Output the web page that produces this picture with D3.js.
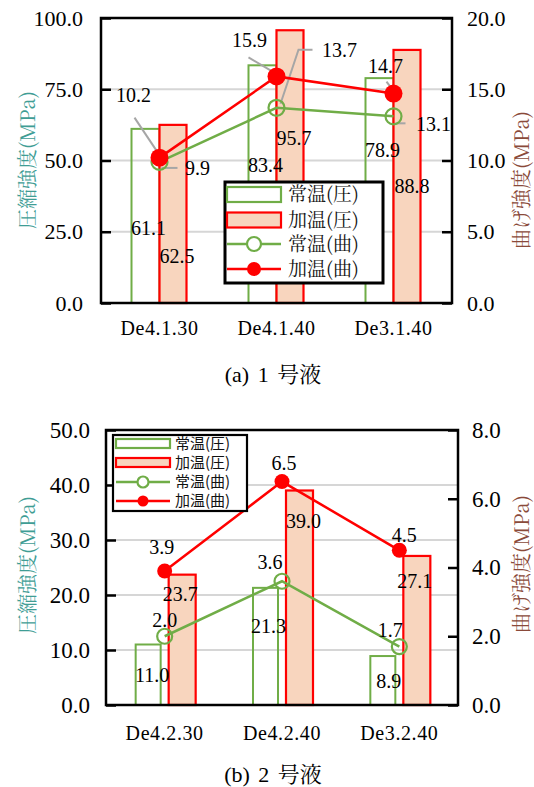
<!DOCTYPE html>
<html>
<head>
<meta charset="utf-8">
<script src="https://cdn.jsdelivr.net/npm/d3@7/dist/d3.min.js"></script>
</head>
<body style="margin:0;background:#fff">
<svg id="chart" width="534" height="787"></svg>
<script>
// ---- data: solution No.1 ----
const categoriesA = ["De4.1.30", "De4.1.40", "De3.1.40"];
const compNormalA = [61.1, 83.4, 78.9];   // 常温(圧)  MPa
const compHeatedA = [62.5, 95.7, 88.8];   // 加温(圧)  MPa
const flexNormalA = [9.9, 13.7, 13.1];    // 常温(曲)  MPa
const flexHeatedA = [10.2, 15.9, 14.7];   // 加温(曲)  MPa
const leftTicksA = [0, 25, 50, 75, 100];
const rightTicksA = [0, 5, 10, 15, 20];

// ---- data: solution No.2 ----
const categoriesB = ["De4.2.30", "De4.2.40", "De3.2.40"];
const compNormalB = [11.0, 21.3, 8.9];
const compHeatedB = [23.7, 39.0, 27.1];
const flexNormalB = [2.0, 3.6, 1.7];
const flexHeatedB = [3.9, 6.5, 4.5];
const leftTicksB = [0, 10, 20, 30, 40, 50];
const rightTicksB = [0, 2, 4, 6, 8];

const seriesNames = ["常温(圧)", "加温(圧)", "常温(曲)", "加温(曲)"];
const captionsLatin = ["(a) 1 ", "(b) 2 "];
const captionsCJK = ["号液", "号液"];
const leftTitle = "圧縮強度(MPa)";
const rightTitle = "曲げ強度(MPa)";

const GREEN = "#70ad47", RED = "#ff0000", PEACH = "#f8d5be", GRID = "#d6d6d6", LEADER = "#a6a6a6";
const LATIN = "Liberation Serif";
const MINCHO = "Noto Serif CJK JP";
const GOTHIC = "Noto Sans CJK JP";

const svg = d3.select("#chart");

function drawPanel(p) {
  const g = svg.append("g");
  const x = d3.scaleBand().domain(p.categories).range([p.left, p.right]);
  const yL = d3.scaleLinear().domain([p.leftTicks[0], p.leftTicks[p.leftTicks.length - 1]]).range([p.bottom, p.top]);
  const yR = d3.scaleLinear().domain([p.rightTicks[0], p.rightTicks[p.rightTicks.length - 1]]).range([p.bottom, p.top]);
  const cx = c => x(c) + x.bandwidth() / 2;
  const fmt = d3.format(".1f");

  // horizontal gridlines
  g.append("g").selectAll("line").data(p.leftTicks.slice(1, -1)).join("line")
    .attr("x1", p.left).attr("x2", p.right)
    .attr("y1", d => yL(d)).attr("y2", d => yL(d))
    .attr("stroke", GRID).attr("stroke-width", 2);

  // compression bars
  g.append("g").selectAll("rect").data(p.compNormal).join("rect")
    .attr("x", (d, i) => cx(p.categories[i]) - p.gap - p.greenW)
    .attr("width", p.greenW)
    .attr("y", d => yL(d)).attr("height", d => yL(0) - yL(d))
    .attr("fill", "none").attr("stroke", GREEN).attr("stroke-width", 2);
  g.append("g").selectAll("rect").data(p.compHeated).join("rect")
    .attr("x", (d, i) => cx(p.categories[i]) + p.gap)
    .attr("width", p.redW)
    .attr("y", d => yL(d)).attr("height", d => yL(0) - yL(d))
    .attr("fill", PEACH).attr("stroke", RED).attr("stroke-width", 2.2);

  // leader lines for flexural labels
  if (p.leaders) {
    const lg = g.append("g");
    p.leaders.forEach(ld => {
      const vals = ld.series === "heated" ? p.flexHeated : p.flexNormal;
      const px = cx(p.categories[ld.i]), py = yR(vals[ld.i]);
      lg.append("polyline")
        .attr("points", ld.pts.map(q => [px + q[0], py + q[1]].join(",")).join(" "))
        .attr("fill", "none").attr("stroke", LEADER).attr("stroke-width", 2);
    });
  }

  // flexural lines and markers
  const line = d3.line().x((d, i) => cx(p.categories[i])).y(d => yR(d));
  g.append("path").datum(p.flexNormal).attr("d", line)
    .attr("fill", "none").attr("stroke", GREEN).attr("stroke-width", 2.5);
  g.append("path").datum(p.flexHeated).attr("d", line)
    .attr("fill", "none").attr("stroke", RED).attr("stroke-width", 2.5);
  g.append("g").selectAll("circle").data(p.flexNormal).join("circle")
    .attr("cx", (d, i) => cx(p.categories[i])).attr("cy", d => yR(d))
    .attr("r", p.rNormal).attr("fill", "none").attr("stroke", GREEN).attr("stroke-width", 2.2);
  g.append("g").selectAll("circle").data(p.flexHeated).join("circle")
    .attr("cx", (d, i) => cx(p.categories[i])).attr("cy", d => yR(d))
    .attr("r", p.rHeated).attr("fill", RED);

  // value labels
  const lab = g.append("g");
  const addLabel = (tx, ty, v) => lab.append("text").attr("x", tx).attr("y", ty)
    .attr("font-family", LATIN).attr("font-size", 20).attr("fill", "#000")
    .attr("text-anchor", "middle").text(fmt(v));
  p.compNormal.forEach((v, i) => {
    const o = p.offCompNormal[i];
    addLabel(cx(p.categories[i]) - p.gap - p.greenW / 2 + o[0], yL(v) + o[1], v);
  });
  p.compHeated.forEach((v, i) => {
    const o = p.offCompHeated[i];
    addLabel(cx(p.categories[i]) + p.gap + p.redW / 2 + o[0], yL(v) + o[1], v);
  });
  p.flexNormal.forEach((v, i) => {
    const o = p.offFlexNormal[i];
    addLabel(cx(p.categories[i]) + o[0], yR(v) + o[1], v);
  });
  p.flexHeated.forEach((v, i) => {
    const o = p.offFlexHeated[i];
    addLabel(cx(p.categories[i]) + o[0], yR(v) + o[1], v);
  });

  // frame
  g.append("rect").attr("x", p.left).attr("y", p.top)
    .attr("width", p.right - p.left).attr("height", p.bottom - p.top)
    .attr("fill", "none").attr("stroke", "#000").attr("stroke-width", 2.5);

  // axes with inward ticks
  const axL = g.append("g").attr("transform", `translate(${p.left},0)`)
    .call(d3.axisLeft(yL).tickValues(p.leftTicks).tickFormat(fmt).tickSize(-10).tickPadding(p.padL));
  const axR = g.append("g").attr("transform", `translate(${p.right},0)`)
    .call(d3.axisRight(yR).tickValues(p.rightTicks).tickFormat(fmt).tickSize(-10).tickPadding(p.padR));
  [axL, axR].forEach(ax => {
    ax.attr("font-family", LATIN);
    ax.select(".domain").remove();
    ax.selectAll(".tick line").attr("stroke", "#000").attr("stroke-width", 2.5);
    ax.selectAll(".tick text").attr("font-family", LATIN).attr("font-size", p.tickFont).attr("fill", "#000");
  });

  // category axis labels
  g.append("g").selectAll("text").data(p.categories).join("text")
    .attr("x", d => cx(d)).attr("y", p.catY)
    .attr("font-family", LATIN).attr("text-anchor", "middle").attr("font-size", 20)
    .attr("letter-spacing", 0.6).attr("fill", "#000").text(d => d);

  // axis titles
  g.append("text").attr("transform", `translate(${p.leftTitleX},${p.leftTitleY}) rotate(-90)`)
    .attr("font-family", MINCHO).attr("text-anchor", "middle").attr("font-size", 20)
    .attr("fill", "#3f9d95").text(leftTitle);
  g.append("text").attr("transform", `translate(${p.rightTitleX},${p.rightTitleY}) rotate(-90)`)
    .attr("font-family", MINCHO).attr("text-anchor", "middle").attr("font-size", 20)
    .attr("fill", "#8a4a3a").text(rightTitle);

  // caption
  const cap = g.append("text").attr("x", p.captionX).attr("y", p.captionY)
    .attr("text-anchor", "middle").attr("font-size", 22).attr("word-spacing", 3).attr("fill", "#000");
  cap.append("tspan").attr("font-family", LATIN).text(p.captionLatin);
  cap.append("tspan").attr("font-family", MINCHO).text(p.captionCJK);

  // legend
  const L = p.legend;
  const lg = g.append("g");
  lg.append("rect").attr("x", L.x).attr("y", L.y).attr("width", L.w).attr("height", L.h)
    .attr("fill", "#fff").attr("stroke", "#000").attr("stroke-width", L.border);
  seriesNames.forEach((name, i) => {
    const rowY = L.rows[i];
    const sx = L.x + L.swX, sw = L.swW;
    if (i < 2) {
      lg.append("rect").attr("x", sx).attr("y", rowY - L.swH / 2).attr("width", sw).attr("height", L.swH)
        .attr("fill", i === 0 ? "#fff" : PEACH).attr("stroke", i === 0 ? GREEN : RED).attr("stroke-width", 2.2);
    } else {
      const col = i === 2 ? GREEN : RED;
      lg.append("line").attr("x1", sx).attr("x2", sx + sw).attr("y1", rowY).attr("y2", rowY)
        .attr("stroke", col).attr("stroke-width", 2.5);
      lg.append("circle").attr("cx", sx + sw / 2).attr("cy", rowY).attr("r", L.mr)
        .attr("fill", i === 2 ? "#fff" : RED).attr("stroke", col).attr("stroke-width", i === 2 ? 2.2 : 0);
    }
    lg.append("text").attr("x", L.x + L.textX).attr("y", rowY + L.font * 0.36)
      .attr("font-size", L.font).attr("font-family", L.family).attr("fill", "#111").text(name);
  });
}

drawPanel({
  categories: categoriesA, compNormal: compNormalA, compHeated: compHeatedA,
  flexNormal: flexNormalA, flexHeated: flexHeatedA,
  leftTicks: leftTicksA, rightTicks: rightTicksA,
  left: 101, right: 452, top: 18, bottom: 303,
  greenW: 28, redW: 27, gap: 0, rNormal: 8, rHeated: 9,
  padL: 18, padR: 15, tickFont: 22, catY: 335,
  offCompNormal: [[3, 106], [3, 107], [3, 79]],
  offCompHeated: [[4, 138], [4, 115], [5, 143]],
  offFlexNormal: [[38, 13], [63, -51], [40, 15]],
  offFlexHeated: [[-26, -56], [-27, -29], [-8, -21]],
  leaders: [
    { series: "heated", i: 0, pts: [[-3, -7], [-25, -40]] },
    { series: "normal", i: 0, pts: [[2, 6], [18, 6]] },
    { series: "heated", i: 1, pts: [[-6, -6], [-28, -19]] },
    { series: "normal", i: 1, pts: [[4, -4], [22, -58], [36, -58]] },
    { series: "heated", i: 2, pts: [[-1, -4], [-7, -12]] },
    { series: "normal", i: 2, pts: [[2, 7], [12, 7]] }
  ],
  leftTitleX: 35, leftTitleY: 160, rightTitleX: 529, rightTitleY: 180,
  captionLatin: captionsLatin[0], captionCJK: captionsCJK[0], captionX: 273, captionY: 382,
  legend: { x: 225, y: 182, w: 158, h: 101, border: 3, rows: [194.5, 220, 244, 269],
            swX: 2, swW: 54, swH: 15, mr: 7, textX: 63, font: 19, family: MINCHO }
});

drawPanel({
  categories: categoriesB, compNormal: compNormalB, compHeated: compHeatedB,
  flexNormal: flexNormalB, flexHeated: flexHeatedB,
  leftTicks: leftTicksB, rightTicks: rightTicksB,
  left: 106, right: 458, top: 430, bottom: 705,
  greenW: 25, redW: 27, gap: 4, rNormal: 7.5, rHeated: 7.5,
  padL: 16, padR: 14, tickFont: 23, catY: 740,
  offCompNormal: [[4, 37], [3, 45], [6, 32]],
  offCompHeated: [[-2, 26], [4, 37], [-2, 32]],
  offFlexNormal: [[0, -9], [-12, -12], [-9, -10]],
  offFlexHeated: [[-3, -17], [2, -12], [5, -8]],
  leaders: null,
  leftTitleX: 35, leftTitleY: 565, rightTitleX: 529, rightTitleY: 564,
  captionLatin: captionsLatin[1], captionCJK: captionsCJK[1], captionX: 273, captionY: 782,
  legend: { x: 113, y: 435, w: 134, h: 76, border: 2.2, rows: [443.5, 462.5, 482, 501],
            swX: 3, swW: 54, swH: 9, mr: 5.5, textX: 62, font: 15, family: GOTHIC }
});
</script>
</body>
</html>
